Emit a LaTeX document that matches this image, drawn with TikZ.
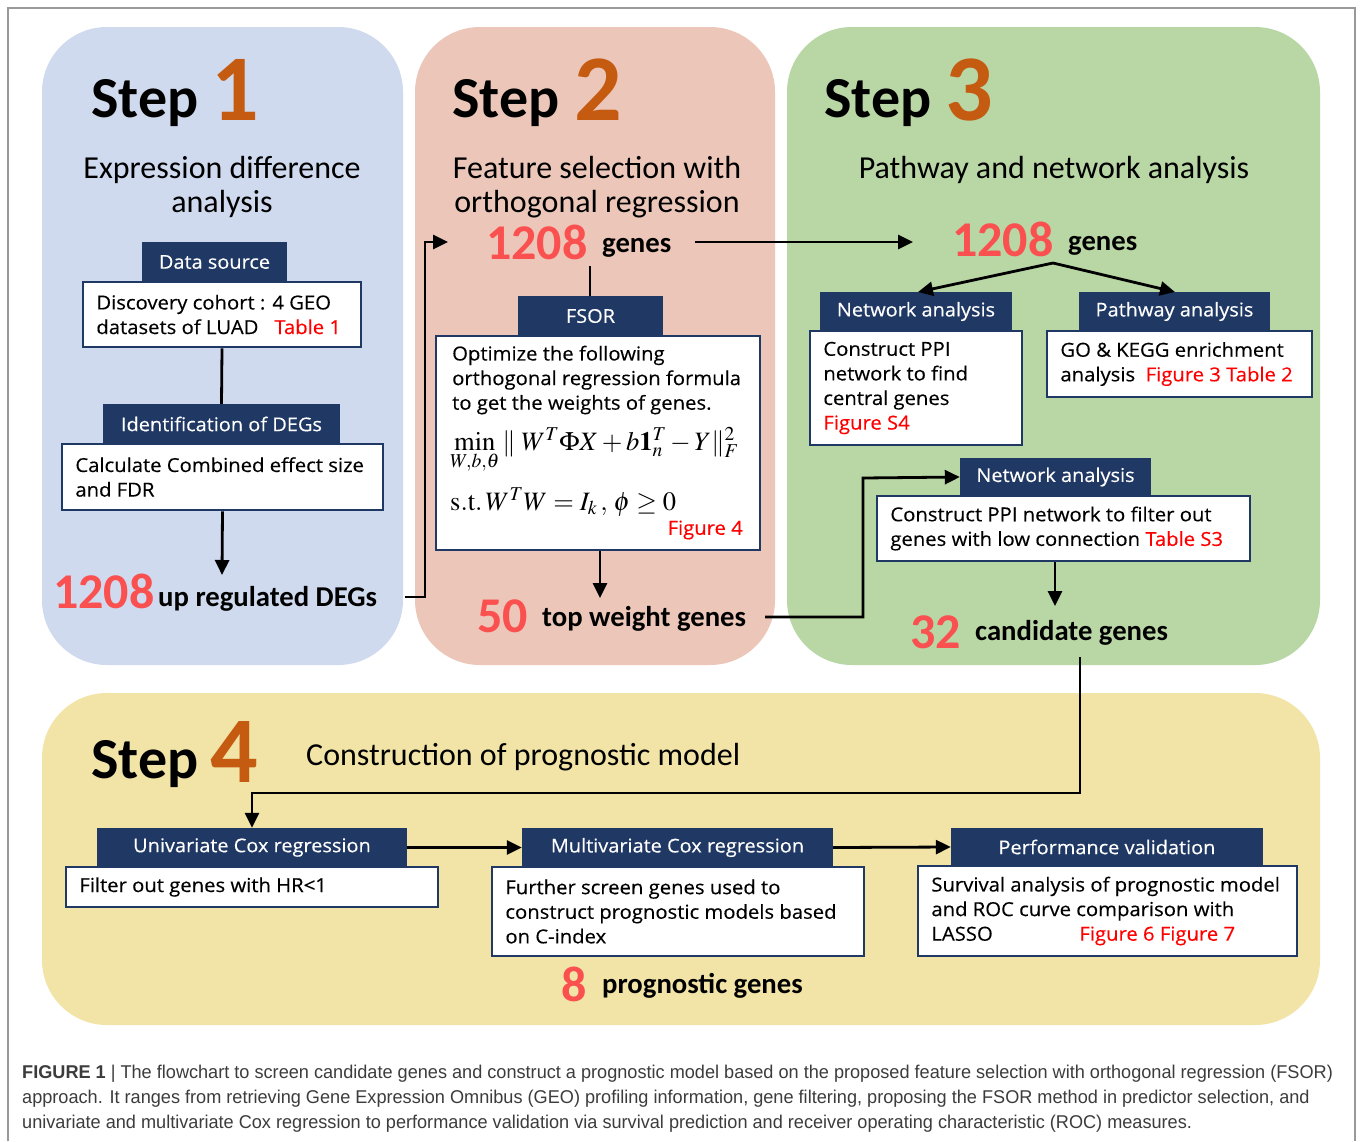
\documentclass[tikz,border=0pt]{standalone}
\usepackage{amsmath}
\usepackage{mathptmx}
\usepackage[no-math]{fontspec}
\usetikzlibrary{arrows.meta,calc}
\newfontfamily\cf{Carlito}
\newfontfamily\bx[FakeStretch=1.05,FakeBold=0.3]{Open Sans}
\newfontfamily\capf[FakeStretch=0.98]{Liberation Sans}
\definecolor{navy}{RGB}{32,56,100}
\definecolor{pblue}{RGB}{207,218,238}
\definecolor{ppink}{RGB}{236,199,185}
\definecolor{pgreen}{RGB}{185,214,165}
\definecolor{pyellow}{RGB}{242,228,166}
\definecolor{numred}{RGB}{250,80,80}
\definecolor{stepor}{RGB}{197,90,17}
\definecolor{capgray}{RGB}{60,60,60}
\newcommand\wbx[6]{%
 \pgfmathsetmacro\myx{(#2+#4)/2}\pgfmathsetmacro\myy{(#3+#5)/2}%
 \pgfmathsetmacro\myw{#4-#2}\pgfmathsetmacro\myh{#5-#3}%
 \node[wbox, minimum width=\myw pt, minimum height=\myh pt] (#1) at (\myx,\myy) {};
 \node[btxt, anchor=west] (#1t) at ([xshift=14.5pt]#1.west) {#6};}
\newcommand\hdb[6]{%
 \pgfmathsetmacro\myx{(#2+#4)/2}\pgfmathsetmacro\myy{(#3+#5)/2}%
 \pgfmathsetmacro\myw{#4-#2}\pgfmathsetmacro\myh{#5-#3}%
 \node[hdr, minimum width=\myw pt, minimum height=\myh pt] (#1) at (\myx,\myy) {#6};}
\begin{document}
\begin{tikzpicture}[x=1pt,y=-1pt,
  panel/.style={rounded corners=65pt},
  hdr/.style={fill=navy, text=white, inner sep=0pt, font=\bx\fontsize{19}{22}\selectfont},
  wbox/.style={draw=navy, line width=2.6pt, fill=white, inner sep=0pt},
  btxt/.style={align=left, inner sep=0pt, font=\bx\fontsize{19.3}{24.6}\selectfont},
  steptxt/.style={inner sep=0pt, font=\cf\bfseries\fontsize{58}{60}\selectfont},
  stepnum/.style={inner sep=0pt, text=stepor, font=\cf\bfseries\fontsize{94}{96}\selectfont},
  sub/.style={inner sep=0pt, align=center, font=\cf\fontsize{32}{34}\selectfont},
  num/.style={inner sep=0pt, text=numred, font=\cf\bfseries\fontsize{50}{52}\selectfont},
  lbl/.style={inner sep=0pt, font=\cf\bfseries\fontsize{28.7}{30}\selectfont},
  conn/.style={line width=2.8pt, black},
  arr/.style={conn, -{Triangle[length=15pt,width=14pt]}},
  capt/.style={inner sep=0pt, anchor=base west, text=capgray, font=\capf\fontsize{18.5}{20}\selectfont}]
\useasboundingbox (0,0) rectangle (1360,1141);
\fill[white] (0,0) rectangle (1360,1141);
\draw[gray!80, line width=1.2pt] (8,1141) -- (8,8) -- (1355,8) -- (1355,1141);
% panels
\fill[pblue, panel] (42,27) rectangle (403,665);
\fill[ppink, panel] (415,27) rectangle (775,665);
\fill[pgreen, panel] (787,27) rectangle (1320,665);
\fill[pyellow, panel] (42,693) rectangle (1320,1025);
% titles
\node[steptxt, anchor=base west] (st1) at (91,117) {Step};
\node[stepnum, anchor=base west] (sn1) at (211,120) {1};
\node[steptxt, anchor=base west] (st2) at (452,117) {Step};
\node[stepnum, anchor=base west] (sn2) at (574,120) {2};
\node[steptxt, anchor=base west] (st3) at (824,117) {Step};
\node[stepnum, anchor=base west] (sn3) at (945,120) {3};
\node[steptxt, anchor=base west] (st4) at (91,778) {Step};
\node[stepnum, anchor=base west] (sn4) at (210,782) {4};
\node[sub] (sub1) at (222,187) {Expression difference\\analysis};
\node[sub] (sub2) at (597,187) {Feature selection with\\orthogonal regression};
\node[sub] (sub3) at (1054,170) {Pathway and network analysis};
\node[sub, anchor=west] (sub4) at (306,757) {Construction of prognostic model};
% step 1
\hdb{dsh}{142}{242}{287}{282}{Data source}
\wbx{dsb}{83}{282}{361}{347}{Discovery cohort : 4 GEO\\\makebox[178pt][l]{datasets of LUAD}{\color{red}Table 1}}
\hdb{idh}{103}{404}{340}{444}{Identification of DEGs}
\wbx{idb}{62}{444}{383}{510}{Calculate Combined effect size\\and FDR}
\node[num, anchor=base west] (n1) at (53,608) {1208};
\node[lbl, anchor=base west] (l1) at (158,606) {up regulated DEGs};
% step 2
\node[num, anchor=base west] (n2) at (486,259) {1208};
\node[lbl, anchor=base west] (l2) at (602,252) {genes};
\hdb{fsh}{518}{296}{663}{336}{FSOR}
\wbx{fsb}{436}{336}{760}{550}{}
\node[btxt, anchor=west] (fst) at (452,380) {Optimize the following\\orthogonal regression formula\\to get the weights of genes.};
\node[inner sep=0pt, anchor=base west, font=\fontsize{26.5}{28}\selectfont] (fsf1) at (450,450)
  {$\min\limits_{W,b,\theta}\|\;W^T\Phi X+b\mathbf{1}_n^T-Y\|_F^2$};
\node[inner sep=0pt, anchor=base west, font=\fontsize{26.5}{28}\selectfont] (fsf2) at (450,510)
  {$\mathrm{s.t.}\,W^TW=I_k\,,\,\phi\geq 0$};
\node[btxt, anchor=east, text=red] (fsfig) at (743,530) {Figure 4};
\node[num, anchor=base west] (n3) at (477,632) {50};
\node[lbl, anchor=base west] (l3) at (542,626) {top weight genes};
% step 3
\node[num, anchor=base west] (n4) at (952,256) {1208};
\node[lbl, anchor=base west] (l4) at (1068,250) {genes};
\hdb{nah}{820}{292}{1012}{331}{Network analysis}
\wbx{nab}{810}{331}{1022}{445}{Construct PPI\\network to find\\central genes\\{\color{red}Figure S4}}
\hdb{pah}{1079}{292}{1270}{331}{Pathway analysis}
\wbx{pab}{1047}{331}{1312}{397}{GO \& KEGG enrichment\\analysis\ \ {\color{red}Figure 3 Table 2}}
\hdb{n2h}{960}{458}{1151}{496}{Network analysis}
\wbx{n2b}{877}{496}{1250}{561}{Construct PPI network to filter out\\genes with low connection {\color{red}Table S3}}
\node[num, anchor=base west] (n5) at (910,648) {32};
\node[lbl, anchor=base west] (l5) at (975,640) {candidate genes};
% step 4
\hdb{uch}{97}{828}{407}{867}{Univariate Cox regression}
\wbx{ucb}{66}{867}{438}{907}{Filter out genes with HR<1}
\hdb{mch}{522}{828}{833}{867}{Multivariate Cox regression}
\wbx{mcb}{492}{867}{864}{956}{Further screen genes used to\\construct prognostic models based\\on C-index}
\hdb{pvh}{951}{828}{1263}{866}{Performance validation}
\wbx{pvb}{918}{866}{1297}{956}{Survival analysis of prognostic model\\and ROC curve comparison with\\\makebox[148pt][l]{LASSO}{\color{red}Figure 6 Figure 7}}
\node[num, anchor=base west] (n6) at (561,1001) {8};
\node[lbl, anchor=base west] (l6) at (602,993) {prognostic genes};
% connectors
\coordinate (c1a) at (222,575);
\coordinate (c12o) at (405,597);
\coordinate (c12i) at (448,242);
\coordinate (c2a) at (590,266);
\coordinate (c2b) at (600,598);
\coordinate (c23o) at (695,242);
\coordinate (c23i) at (913,242);
\coordinate (c2no) at (765,617);
\coordinate (cbr) at (1053,263);
\coordinate (cbl) at (918,292);
\coordinate (cbrr) at (1175,292);
\coordinate (c3a) at (1055,562);
\coordinate (c3b) at (1055,606);
\coordinate (c34o) at (1080,657);
\draw[conn] (dsb.south) -- (idh.north);
\draw[arr] (idb.south) -- (c1a);
\draw[arr] (c12o) -- (425,597) -- (425,242) -- (c12i);
\draw[conn] (c2a) -- (c2a |- fsh.north);
\draw[arr] (fsb.south -| c2b) -- (c2b);
\draw[arr] (c23o) -- (c23i);
\draw[arr] (c2no) -- (863,617) -- (863,478) -- (n2h.west);
\draw[arr] (cbr) -- (cbl);
\draw[arr] (cbr) -- (cbrr);
\draw[arr] (c3a) -- (c3b);
\draw[arr] (c34o) -- (1080,793) -- (252,793) -- (uch.north);
\draw[arr] (uch.east) -- (mch.west);
\draw[arr] (mch.east) -- (pvh.west);
% caption
\node[capt] (cap1) at (22,1078) {{\bfseries FIGURE 1} | The flowchart to screen candidate genes and construct a prognostic model based on the proposed feature selection with orthogonal regression (FSOR)};
\node[capt] (cap2) at (22,1103) {approach. It ranges from retrieving Gene Expression Omnibus (GEO) profiling information, gene filtering, proposing the FSOR method in predictor selection, and};
\node[capt] (cap3) at (22,1128) {univariate and multivariate Cox regression to performance validation via survival prediction and receiver operating characteristic (ROC) measures.};
\end{tikzpicture}
\end{document}
